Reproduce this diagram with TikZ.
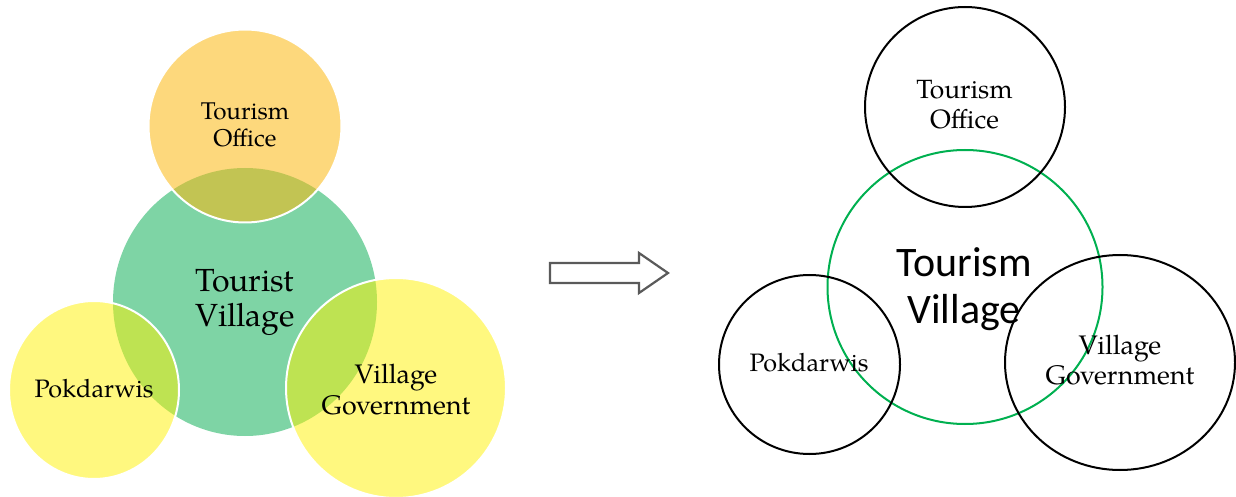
\documentclass[tikz,border=0pt]{standalone}
\usepackage{fontspec}
\setmainfont{TeX Gyre Pagella}
\newfontfamily\sansf{Carlito}
\usetikzlibrary{shapes.geometric}
\definecolor{tvgreen}{RGB}{126,212,165}
\definecolor{offorange}{RGB}{251,184,17}
\definecolor{ringgreen}{RGB}{0,176,80}
\definecolor{arrowgray}{RGB}{90,90,90}
\begin{document}
\begin{tikzpicture}[x=0.5pt,y=-0.5pt]
\useasboundingbox (0,0) rectangle (1236,497);
\tikzset{
  fs/.style 2 args={font=\fontsize{#1}{#2}\selectfont, align=center, text=black, inner sep=0pt},
  softc/.style={ellipse, inner sep=0pt, draw=white, line width=1pt, fill opacity=0.55, draw opacity=1},
  ring/.style={ellipse, inner sep=0pt, draw=black, line width=1pt},
}
% left diagram
\node[ellipse, inner sep=0pt, fill=tvgreen, minimum width=132pt, minimum height=134pt] (tv) at (245,302) {};
\node[softc, fill=offorange, minimum width=96.5pt, minimum height=96.5pt] (to) at (245,126) {};
\node[softc, fill=yellow, fill opacity=0.5, minimum width=85pt, minimum height=89pt] (pk) at (94,390) {};
\node[softc, fill=yellow, fill opacity=0.5, minimum width=110pt, minimum height=110pt] (vg) at (396,388) {};
\node[fs={16}{17.5}] (tvt) at (245,302) {Tourist\\Village};
\node[fs={12.1}{13.5}] (tot) at (245,125) {Tourism\\Office};
\node[fs={12.6}{15}] (pkt) at (94,389) {Pokdarwis};
\node[fs={13.4}{15.5}] (vgt) at (396,390) {Village\\Government};
% arrow
\draw[arrowgray, line width=1.1pt, line join=miter]
  (550,263) -- (639,263) -- (639,253) -- (668,273) -- (639,293) -- (639,283) -- (550,283) -- cycle;
% right diagram
\node[ellipse, inner sep=0pt, draw=ringgreen, line width=1pt, minimum width=137.5pt, minimum height=137pt] (tv2) at (965,287) {};
\node[ring, minimum width=100pt, minimum height=100pt] (to2) at (965,107) {};
\node[ring, minimum width=90.5pt, minimum height=89.5pt] (pk2) at (809.5,364.5) {};
\node[ring, minimum width=115pt, minimum height=107.5pt] (vg2) at (1120,362.5) {};
\node[fs={13.2}{15}] (to2t) at (964.5,105) {Tourism\\Office};
\node[fs={12.6}{15}] (pk2t) at (809,363) {Pokdarwis};
\node[fs={13.4}{15}] (vg2t) at (1120,360) {Village\\Government};
\node[align=center, inner sep=0pt, font=\sansf\fontsize{21}{23.5}\selectfont] (tv2t) at (964,289) {Tourism\\Village};
\end{tikzpicture}
\end{document}
